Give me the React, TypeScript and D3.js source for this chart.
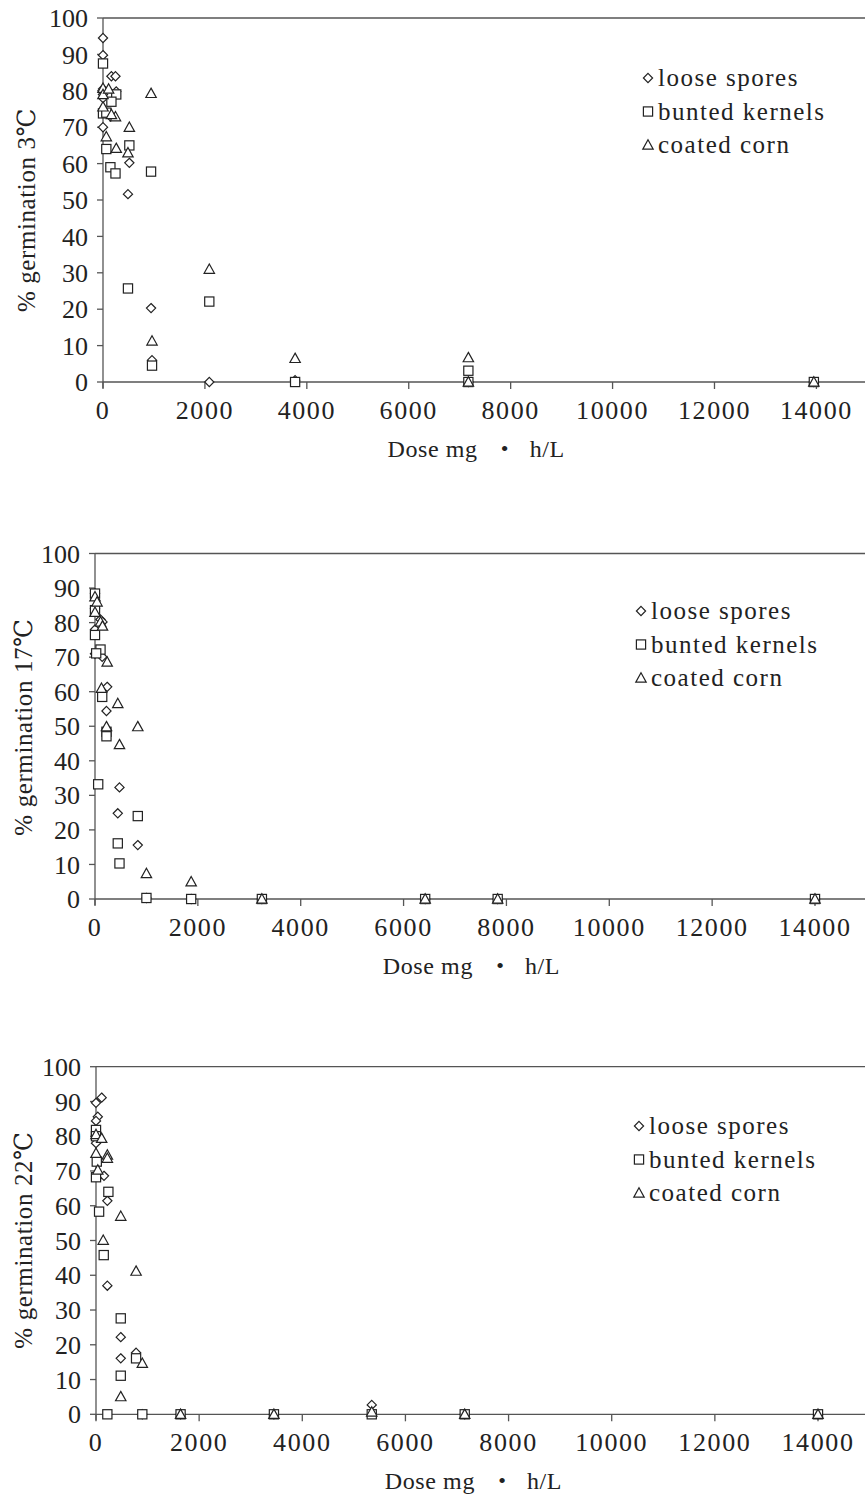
import React from "react";
import * as d3 from "d3";

type Pt = [number, number];

// ---- Data: [dose mg·h/L, % germination] ----
const looseSpores3: Pt[] = [[0,94.5],[0,89.8],[0,80.5],[0,79],[0,78],[0,70],[165,84],[245,84],[260,79.8],[150,72.9],[517,60.2],[490,51.6],[943,20.3],[962,6],[2086,0],[3770,0.5],[7170,0],[13950,0]];
const buntedKernels3: Pt[] = [[0,87.5],[260,79],[165,77],[0,73.8],[65,74],[65,64],[517,65],[145,59],[245,57.3],[943,57.8],[490,25.7],[962,4.5],[2086,22.1],[3770,0],[7170,3.1],[7170,0],[13950,0]];
const coatedCorn3: Pt[] = [[0,80.7],[0,79],[0,75.6],[110,80.5],[943,79.3],[245,72.9],[165,73.5],[517,70],[65,67.4],[260,64.2],[490,63],[2086,31],[962,11.3],[3770,6.5],[7170,6.7],[7170,0],[13950,0]];

const looseSpores17: Pt[] = [[0,88.5],[0,84],[0,78],[107,80.9],[146,80.2],[0,71],[140,70.1],[237,61.4],[223,54.4],[476,32.3],[443,24.8],[832,15.6],[1000,0.3],[1870,0],[3245,0],[6420,0],[7830,0],[14000,0]];
const buntedKernels17: Pt[] = [[0,88.4],[0,83.6],[0,76.4],[107,72.2],[23,71.1],[140,58.5],[223,48.4],[223,47.1],[62,33.2],[832,24],[443,16.1],[476,10.3],[1000,0.3],[1870,0],[3245,0],[6420,0],[7830,0],[14000,0]];
const coatedCorn17: Pt[] = [[0,87.5],[40,86],[0,83],[107,80.2],[146,79],[237,68.6],[126,61],[443,56.6],[223,49.9],[832,49.9],[476,44.7],[1000,7.4],[1870,5.0],[3245,0],[6420,0],[7830,0],[14000,0]];

const looseSpores22: Pt[] = [[0,89.6],[110,91.1],[35,85.6],[0,84.4],[0,80],[0,78],[65,68.6],[155,68.6],[220,61.4],[220,37],[480,22.2],[480,16.1],[777,17.7],[898,0],[1640,0],[3450,0],[5347,2.7],[7150,0],[14000,0]];
const buntedKernels22: Pt[] = [[0,81.8],[0,80],[15,72.7],[0,68.2],[240,64],[60,58.3],[150,45.8],[480,27.6],[777,16.1],[480,11.1],[220,0],[898,0],[1640,0],[3450,0],[5347,0],[7150,0],[14000,0]];
const coatedCorn22: Pt[] = [[0,80.5],[110,79.4],[0,75.1],[220,74.6],[220,73.7],[35,70.3],[480,57],[140,50.1],[777,41.2],[898,14.7],[480,5.1],[1640,0],[3450,0],[5347,0.7],[7150,0],[14000,0]];

const xTicks = [0, 2000, 4000, 6000, 8000, 10000, 12000, 14000];
const yTicks = [0, 10, 20, 30, 40, 50, 60, 70, 80, 90, 100];
const seriesNames = ["loose spores", "bunted kernels", "coated corn"];
const temperatures = ["3℃", "17℃", "22℃"];
const xLabelParts = ["Dose mg", "•", "h/L"];

const FONT = "'Liberation Serif', 'DejaVu Serif', serif";
const INK = "#222";
const AXIS = "#555";

type PanelCfg = {
  left: number; top: number; bottom: number; x14k: number;
  legendX: number; legendY: number; labelX: number; labelY: number; ylabel: string;
  series: Pt[][];
};

const panels: PanelCfg[] = [
  { left: 103, top: 18, bottom: 382, x14k: 816.4, legendX: 648, legendY: 78, labelX: 26, labelY: 210,
    ylabel: "% germination " + temperatures[0], series: [looseSpores3, buntedKernels3, coatedCorn3] },
  { left: 95, top: 553.5, bottom: 899, x14k: 815, legendX: 641, legendY: 611, labelX: 23, labelY: 727,
    ylabel: "% germination " + temperatures[1], series: [looseSpores17, buntedKernels17, coatedCorn17] },
  { left: 96, top: 1066.7, bottom: 1414.3, x14k: 818, legendX: 639, legendY: 1126, labelX: 23, labelY: 1240,
    ylabel: "% germination " + temperatures[2], series: [looseSpores22, buntedKernels22, coatedCorn22] },
];

function Marker({ kind, x, y }: { kind: number; x: number; y: number }) {
  const common = { fill: "white", stroke: INK, strokeWidth: 1.2 };
  if (kind === 0) {
    const r = 4.6;
    return <path d={`M${x},${y - r}L${x + r},${y}L${x},${y + r}L${x - r},${y}Z`} {...common} />;
  }
  if (kind === 1) {
    const h = 4.6;
    return <rect x={x - h} y={y - h} width={2 * h} height={2 * h} {...common} />;
  }
  const s = 5.2;
  return <path d={`M${x},${y - s}L${x + s},${y + s * 0.8}L${x - s},${y + s * 0.8}Z`} {...common} />;
}

function Panel({ cfg }: { cfg: PanelCfg }) {
  const x = d3.scaleLinear().domain([0, 14000]).range([cfg.left, cfg.x14k]);
  const y = d3.scaleLinear().domain([0, 100]).range([cfg.bottom, cfg.top]);
  const right = 865;
  const cx = (cfg.left + cfg.x14k) / 2 + 25;
  const ly = y(0) + 75;
  return (
    <g>
      <line x1={cfg.left} x2={right} y1={y(100)} y2={y(100)} stroke={AXIS} strokeWidth={1.3} />
      <line x1={cfg.left} x2={cfg.left} y1={y(100)} y2={y(0) + 6} stroke={AXIS} strokeWidth={1.3} />
      {yTicks.map((t) => (
        <g key={"y" + t}>
          <line x1={cfg.left - 6} x2={cfg.left} y1={y(t)} y2={y(t)} stroke={AXIS} strokeWidth={1.3} />
          <text x={cfg.left - 15} y={y(t)} dy="0.35em" textAnchor="end" fontFamily={FONT} fontSize={26} fill={INK}>
            {t}
          </text>
        </g>
      ))}
      <line x1={cfg.left} x2={right} y1={y(0)} y2={y(0)} stroke={AXIS} strokeWidth={1.3} />
      {xTicks.map((t) => (
        <g key={"x" + t}>
          <line x1={x(t)} x2={x(t)} y1={y(0)} y2={y(0) + 7} stroke={AXIS} strokeWidth={1.3} />
          <text x={x(t)} y={y(0) + 37} textAnchor="middle" fontFamily={FONT} fontSize={26} fill={INK} letterSpacing={1.6}>
            {t}
          </text>
        </g>
      ))}
      <text x={cx - 7} y={ly} textAnchor="end" fontFamily={FONT} fontSize={24} fill={INK} letterSpacing={0.6}>
        {xLabelParts[0]}
      </text>
      <text x={cx + 20} y={ly - 1} textAnchor="middle" fontFamily={FONT} fontSize={22} fill={INK}>
        {xLabelParts[1]}
      </text>
      <text x={cx + 45} y={ly} textAnchor="start" fontFamily={FONT} fontSize={24} fill={INK} letterSpacing={0.6}>
        {xLabelParts[2]}
      </text>
      <text transform={`translate(${cfg.labelX},${cfg.labelY}) rotate(-90)`} textAnchor="middle" dy="0.35em"
        fontFamily={FONT} fontSize={25} fill={INK} letterSpacing={0.6}>
        {cfg.ylabel}
      </text>
      {cfg.series.map((s, si) =>
        s.map((p, i) => <Marker key={si + "-" + i} kind={si} x={x(p[0])} y={y(p[1])} />)
      )}
      {seriesNames.map((n, i) => (
        <g key={n}>
          <Marker kind={i} x={cfg.legendX} y={cfg.legendY + i * 33.5} />
          <text x={cfg.legendX + 10} y={cfg.legendY + i * 33.5} dy="0.33em" fontFamily={FONT} fontSize={25} fill={INK} letterSpacing={1.5}>
            {n}
          </text>
        </g>
      ))}
    </g>
  );
}

export default function App() {
  return (
    <svg width={865} height={1504} style={{ position: "absolute", left: 0, top: 0, background: "white" }}>
      <rect width={865} height={1504} fill="white" />
      {panels.map((p, i) => (
        <Panel key={i} cfg={p} />
      ))}
    </svg>
  );
}
